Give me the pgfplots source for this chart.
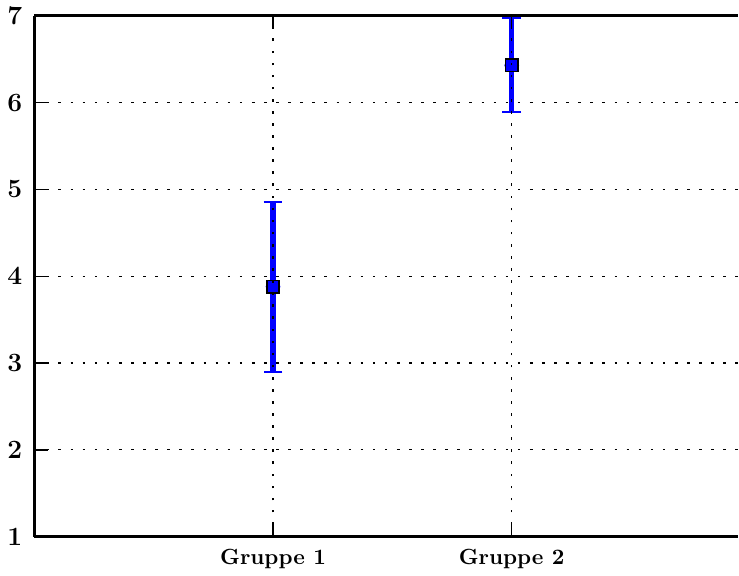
\documentclass[border=0pt]{standalone}
\usepackage{pgfplots}
\pgfplotsset{compat=1.18}
\begin{document}
\begin{tikzpicture}
\begin{axis}[
  set layers, axis on top,
  scale only axis,
  width=320pt, height=237pt,
  xmin=0, xmax=2.946, ymin=1, ymax=7,
  axis x line=box, axis y line=left,
  axis line style={-, line width=1.3pt, black},
  xtick={1,2}, xticklabels={Gruppe 1, Gruppe 2},
  ytick={1,2,3,4,5,6,7},
  tick align=inside, major tick length=6pt,
  tick style={black, line width=0.6pt},
  tick label style={font=\bfseries\boldmath},
  yticklabel style={font=\large\bfseries\boldmath, xshift=-2pt},
  xticklabel style={yshift=-2pt},
  grid=major,
  major grid style={black, dash pattern=on 1.2pt off 4.3pt, line width=0.5pt},
  clip=false,
]
\addplot[blue, line width=2.5pt, only marks, mark=none,
  error bars/.cd, y dir=both, y explicit,
  error mark=-, error mark options={rotate=90, mark size=4.3pt, line width=0.9pt, blue},
  error bar style={line width=2.5pt, blue}]
  coordinates {(1,3.88) +- (0,0.98) (2,6.43) +- (0,0.54)};
\addplot[on layer=axis foreground, only marks, mark=square*, mark size=2.8pt,
  mark options={fill=blue, draw=black, line width=0.8pt}]
  coordinates {(1,3.88) (2,6.43)};
\end{axis}
\end{tikzpicture}
\end{document}
